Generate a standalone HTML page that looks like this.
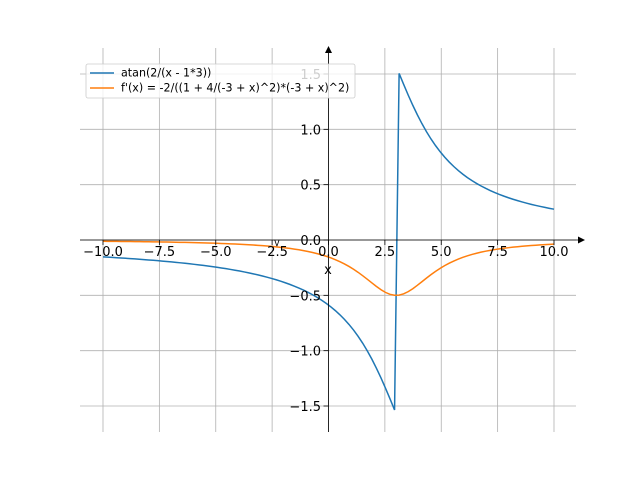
<!DOCTYPE html>
<html><head><meta charset="utf-8"><style>
body{margin:0;background:#fff}
svg{display:block;font-family:"DejaVu Sans","Liberation Sans",sans-serif}
</style></head><body>
<svg id="s" width="640" height="480" xmlns="http://www.w3.org/2000/svg">
<rect width="640" height="480" fill="#fff"/>
<g id="grid" stroke="#b0b0b0" stroke-width="0.8"></g>
<path id="c1" fill="none" stroke="#1f77b4" stroke-width="1.5"/>
<path id="c2" fill="none" stroke="#ff7f0e" stroke-width="1.5"/>
<line x1="80" y1="240" x2="580" y2="240" stroke="#000" stroke-width="0.8"/>
<polygon points="585,240 578,236.5 578,243.5" fill="#000"/>
<line x1="328.5" y1="432" x2="328.5" y2="52" stroke="#000" stroke-width="0.8"/>
<polygon points="328.5,46 325,53 332,53" fill="#000"/>
<g id="ticks" stroke="#000" stroke-width="0.8"></g>
<g id="labels" font-size="13" fill="#000"></g>
<text x="328" y="274" font-size="13" text-anchor="middle">x</text>
<text x="276" y="247" font-size="10" text-anchor="middle" transform="rotate(-90 276 243)">&lt;</text>
<g>
<rect x="86" y="64" width="269" height="34" fill="#fff" fill-opacity="0.8" stroke="#ccc" stroke-width="0.8" rx="2"/>
<line x1="90" y1="73" x2="114" y2="73" stroke="#1f77b4" stroke-width="1.5"/>
<line x1="90" y1="88" x2="114" y2="88" stroke="#ff7f0e" stroke-width="1.5"/>
<text x="121" y="76.5" font-size="11.1">atan(2/(x - 1*3))</text>
<text x="121" y="91.5" font-size="11.1">f'(x) = -2/((1 + 4/(-3 + x)^2)*(-3 + x)^2)</text>
</g>
</svg>
<script>
var X=function(x){return 328.5+x*22.55},Y=function(y){return 240-y*110.67};
var g=document.getElementById('grid'),t=document.getElementById('ticks'),l=document.getElementById('labels'),ns='http://www.w3.org/2000/svg';
function el(p,n,a,txt){var e=document.createElementNS(ns,n);for(var k in a)e.setAttribute(k,a[k]);if(txt)e.textContent=txt;p.appendChild(e);}
[-10,-7.5,-5,-2.5,0,2.5,5,7.5,10].forEach(function(v){var x=X(v);
el(g,'line',{x1:x,y1:48,x2:x,y2:432});el(t,'line',{x1:x,y1:240,x2:x,y2:245});
el(l,'text',{x:x,y:256,'text-anchor':'middle'},(v<0?'\u2212':'')+Math.abs(v).toFixed(1));});
[-1.5,-1,-0.5,0,0.5,1,1.5].forEach(function(v){var y=Y(v);
el(g,'line',{x1:80,y1:y,x2:576,y2:y});el(t,'line',{x1:323.5,y1:y,x2:328.5,y2:y});
el(l,'text',{x:321,y:y+5,'text-anchor':'end'},(v<0?'\u2212':'')+Math.abs(v).toFixed(1));});
var d1='',d2='';
for(var k=0;k<100;k++){var x=-10+k*20/99;var a=Math.atan(2/(x-3)),b=-2/((x-3)*(x-3)+4);
d1+=(k?'L':'M')+X(x).toFixed(2)+','+Y(a).toFixed(2);d2+=(k?'L':'M')+X(x).toFixed(2)+','+Y(b).toFixed(2);}
document.getElementById('c1').setAttribute('d',d1);document.getElementById('c2').setAttribute('d',d2);
</script>
</body></html>
